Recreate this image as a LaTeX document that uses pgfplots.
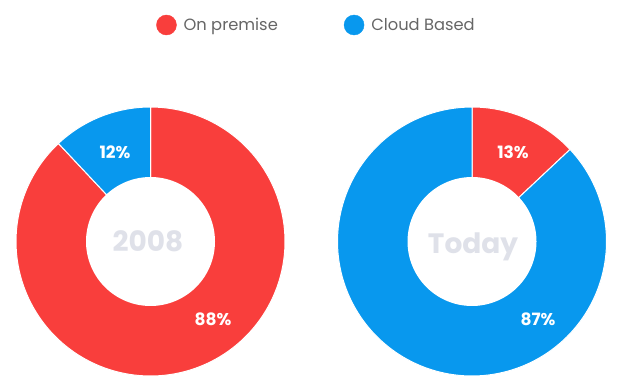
\documentclass[border=0pt]{standalone}
\usepackage{pgfplots}
\pgfplotsset{compat=1.18}
\usepackage{pgfplotstable}
\usepackage{fontspec}
\setmainfont{Poppins}
\definecolor{onprem}{HTML}{F93E3C}
\definecolor{cloud}{HTML}{0898EE}
\definecolor{centergray}{HTML}{DFE1E9}
\definecolor{legendgray}{HTML}{666666}

\pgfplotstableread{
category value
OnPremise 88
Cloud 12
}\tablePast
\pgfplotstableread{
category value
OnPremise 13
Cloud 87
}\tableToday

\begin{document}%
\begin{tikzpicture}
\pgfplotstablegetelem{0}{value}\of\tablePast \let\pastOn\pgfplotsretval
\pgfplotstablegetelem{1}{value}\of\tablePast \let\pastCloud\pgfplotsretval
\pgfplotstablegetelem{0}{value}\of\tableToday \let\todayOn\pgfplotsretval
\pgfplotstablegetelem{1}{value}\of\tableToday \let\todayCloud\pgfplotsretval
\pgfmathsetmacro\pastSplit{90-3.6*\pastOn}
\pgfmathsetmacro\pastEnd{\pastSplit-3.6*\pastCloud}
\pgfmathsetmacro\todaySplit{90-3.6*\todayOn}
\pgfmathsetmacro\todayEnd{\todaySplit-3.6*\todayCloud}
\begin{axis}[
  width=623pt, height=389pt, scale only axis,
  xmin=0, xmax=623, ymin=0, ymax=389,
  hide axis, clip=false,
  legend columns=2,
  legend style={at={(axis cs:316.5,364)}, anchor=center, draw=none, fill=none,
    font=\fontsize{16.3}{19}\selectfont, text=legendgray,
    /tikz/every odd column/.append style={column sep=5pt},
    /tikz/every even column/.append style={column sep=64pt}},
]
% left donut (2008)
\addplot[forget plot, fill=onprem, draw=white, line width=1pt, domain=\pastSplit:90, samples=150, variable=\t]
  ({150.5+134.5*cos(\t)},{147.5+134.5*sin(\t)}) -- (axis cs:150.5,147.5) -- cycle;
\addplot[forget plot, fill=cloud, draw=white, line width=1pt, domain=\pastEnd:\pastSplit, samples=40, variable=\t]
  ({150.5+134.5*cos(\t)},{147.5+134.5*sin(\t)}) -- (axis cs:150.5,147.5) -- cycle;
\addplot[forget plot, fill=white, draw=none, domain=0:360, samples=120, variable=\t]
  ({150.5+64.5*cos(\t)},{147.5+64.5*sin(\t)}) -- cycle;
% right donut (Today)
\addplot[forget plot, fill=onprem, draw=white, line width=1pt, domain=\todaySplit:90, samples=40, variable=\t]
  ({472+134.5*cos(\t)},{147.5+134.5*sin(\t)}) -- (axis cs:472,147.5) -- cycle;
\addplot[forget plot, fill=cloud, draw=white, line width=1pt, domain=\todayEnd:\todaySplit, samples=150, variable=\t]
  ({472+134.5*cos(\t)},{147.5+134.5*sin(\t)}) -- (axis cs:472,147.5) -- cycle;
\addplot[forget plot, fill=white, draw=none, domain=0:360, samples=120, variable=\t]
  ({472+64.5*cos(\t)},{147.5+64.5*sin(\t)}) -- cycle;
% labels
\node[anchor=base, text=white, font=\bfseries\fontsize{17}{20}\selectfont] at (axis cs:115,230.7) {12\%};
\node[anchor=base, text=white, font=\bfseries\fontsize{17}{20}\selectfont] at (axis cs:213,64) {88\%};
\node[anchor=base, text=white, font=\bfseries\fontsize{17}{20}\selectfont] at (axis cs:513,230.7) {13\%};
\node[anchor=base, text=white, font=\bfseries\fontsize{17}{20}\selectfont] at (axis cs:538,64) {87\%};
\node[anchor=base, text=centergray, font=\bfseries\fontsize{28}{32}\selectfont] at (axis cs:148,138) {2008};
\node[anchor=base, text=centergray, font=\bfseries\fontsize{28}{32}\selectfont] at (axis cs:473,136) {Today};
% legend
\addlegendimage{legend image code/.code={\fill[onprem] (0pt,0pt) circle (10pt);}}
\addlegendentry{On premise}
\addlegendimage{legend image code/.code={\fill[cloud] (0pt,0pt) circle (10pt);}}
\addlegendentry{Cloud Based}
\end{axis}
\pgfresetboundingbox
\path[use as bounding box] (current axis.south west) rectangle (current axis.north east);
\end{tikzpicture}%
\end{document}
